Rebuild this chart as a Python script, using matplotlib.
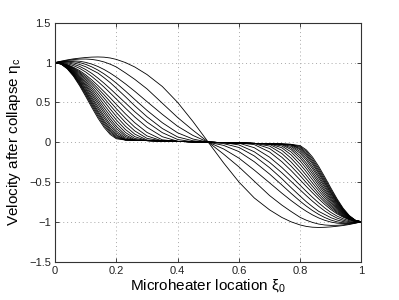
import matplotlib
matplotlib.use('Agg')
import matplotlib.pyplot as plt

# microheater location, left half of the interval (the curves are antisymmetric about 0.5)
xi_half = [0, .02, .04, .06, .08, .10, .12, .14, .16, .18, .20, .23, .26, .30, .35, .40, .45, .50]

# velocity after collapse, one list per curve (outer -> inner)
eta_01 = [1.000, 1.018, 1.034, 1.047, 1.056, 1.064, 1.069, 1.071, 1.068, 1.058, 1.040, 1.000, 0.945, 0.850, 0.700, 0.500, 0.260, 0]
eta_02 = [1.000, 1.015, 1.028, 1.038, 1.044, 1.045, 1.040, 1.028, 1.008, 0.980, 0.945, 0.870, 0.790, 0.670, 0.490, 0.310, 0.150, 0]
eta_03 = [1.000, 1.012, 1.020, 1.022, 1.017, 1.003, 0.981, 0.951, 0.913, 0.868, 0.817, 0.732, 0.640, 0.510, 0.350, 0.200, 0.085, 0]
eta_04 = [1.000, 1.010, 1.015, 1.012, 1.000, 0.978, 0.946, 0.906, 0.858, 0.803, 0.742, 0.642, 0.537, 0.400, 0.245, 0.118, 0.040, 0]
eta_05 = [1.000, 1.007, 1.007, 0.997, 0.977, 0.948, 0.908, 0.868, 0.810, 0.748, 0.678, 0.570, 0.458, 0.320, 0.172, 0.066, 0.018, 0]
eta_06 = [1.000, 1.004, 0.998, 0.980, 0.953, 0.913, 0.864, 0.805, 0.741, 0.672, 0.600, 0.492, 0.384, 0.253, 0.120, 0.034, 0.005, 0]
eta_07 = [1.000, 0.999, 0.986, 0.962, 0.928, 0.882, 0.825, 0.761, 0.692, 0.618, 0.542, 0.427, 0.317, 0.188, 0.069, 0.012, 0.005, 0]
eta_08 = [1.000, 0.994, 0.974, 0.942, 0.900, 0.846, 0.782, 0.711, 0.635, 0.556, 0.475, 0.355, 0.245, 0.123, 0.030, 0.010, 0.005, 0]
eta_09 = [1.000, 0.993, 0.971, 0.934, 0.886, 0.825, 0.754, 0.676, 0.594, 0.508, 0.421, 0.299, 0.189, 0.079, 0.016, 0.010, 0.005, 0]
eta_10 = [1.000, 0.992, 0.967, 0.927, 0.872, 0.805, 0.728, 0.643, 0.553, 0.462, 0.373, 0.247, 0.142, 0.048, 0.015, 0.010, 0.005, 0]
eta_11 = [1.000, 0.991, 0.963, 0.919, 0.858, 0.784, 0.699, 0.607, 0.513, 0.417, 0.324, 0.200, 0.102, 0.028, 0.015, 0.010, 0.005, 0]
eta_12 = [1.000, 0.990, 0.959, 0.910, 0.843, 0.763, 0.671, 0.573, 0.471, 0.372, 0.279, 0.158, 0.070, 0.020, 0.015, 0.010, 0.005, 0]
eta_13 = [1.000, 0.988, 0.955, 0.901, 0.828, 0.742, 0.644, 0.539, 0.433, 0.331, 0.237, 0.122, 0.047, 0.020, 0.015, 0.010, 0.005, 0]
eta_14 = [1.000, 0.987, 0.952, 0.892, 0.814, 0.721, 0.617, 0.508, 0.398, 0.294, 0.200, 0.092, 0.032, 0.020, 0.015, 0.010, 0.005, 0]
eta_15 = [1.000, 0.987, 0.947, 0.885, 0.801, 0.703, 0.593, 0.479, 0.366, 0.262, 0.170, 0.071, 0.025, 0.020, 0.015, 0.010, 0.005, 0]
eta_16 = [1.000, 0.986, 0.943, 0.876, 0.787, 0.682, 0.566, 0.447, 0.332, 0.227, 0.140, 0.052, 0.024, 0.020, 0.015, 0.010, 0.005, 0]
eta_17 = [1.000, 0.985, 0.940, 0.868, 0.774, 0.664, 0.543, 0.421, 0.305, 0.201, 0.117, 0.039, 0.024, 0.020, 0.015, 0.010, 0.005, 0]
eta_18 = [1.000, 0.984, 0.936, 0.860, 0.760, 0.644, 0.519, 0.393, 0.275, 0.174, 0.095, 0.031, 0.024, 0.020, 0.015, 0.010, 0.005, 0]
eta_19 = [1.000, 0.983, 0.933, 0.853, 0.749, 0.629, 0.499, 0.372, 0.253, 0.154, 0.081, 0.028, 0.024, 0.020, 0.015, 0.010, 0.005, 0]
eta_20 = [1.000, 0.982, 0.930, 0.846, 0.737, 0.612, 0.479, 0.349, 0.231, 0.134, 0.066, 0.027, 0.024, 0.020, 0.015, 0.010, 0.005, 0]
eta_21 = [1.000, 0.981, 0.925, 0.838, 0.724, 0.594, 0.458, 0.326, 0.209, 0.115, 0.054, 0.027, 0.024, 0.020, 0.015, 0.010, 0.005, 0]
eta_22 = [1.000, 0.980, 0.921, 0.829, 0.710, 0.575, 0.436, 0.302, 0.186, 0.097, 0.043, 0.027, 0.024, 0.020, 0.015, 0.010, 0.005, 0]

curves = [eta_01, eta_02, eta_03, eta_04, eta_05, eta_06, eta_07, eta_08, eta_09, eta_10, eta_11,
          eta_12, eta_13, eta_14, eta_15, eta_16, eta_17, eta_18, eta_19, eta_20, eta_21, eta_22]

x_ticks = [0, 0.2, 0.4, 0.6, 0.8, 1]
y_ticks = [-1.5, -1, -0.5, 0, 0.5, 1, 1.5]

plt.rcParams['font.family'] = ['Liberation Sans', 'DejaVu Sans']
plt.rcParams['mathtext.fontset'] = 'custom'
plt.rcParams['mathtext.rm'] = 'Liberation Sans'
plt.rcParams['mathtext.it'] = 'Liberation Sans'

fig = plt.figure(figsize=(3.99, 3.00), dpi=100)
ax = fig.add_axes([0.138, 0.128, 0.768, 0.796])

# right half comes from the antisymmetry eta(1 - xi) = -eta(xi)
xi_full = xi_half + [1 - v for v in reversed(xi_half[:-1])]
for eta in curves:
    eta_full = eta + [-v for v in reversed(eta[:-1])]
    ax.plot(xi_full, eta_full, color='k', lw=0.6)

ax.set_xlim(0, 1)
ax.set_ylim(-1.5, 1.5)
ax.set_xticks(x_ticks)
ax.set_xticklabels(['0', '0.2', '0.4', '0.6', '0.8', '1'])
ax.set_yticks(y_ticks)
ax.set_yticklabels(['\u22121.5', '\u22121', '\u22120.5', '0', '0.5', '1', '1.5'])
ax.tick_params(direction='in', top=True, right=True, length=3, width=0.6, labelsize=8, pad=3, colors='#222222')
ax.grid(True, linestyle=(0, (1, 3)), color='#a8a8a8', lw=0.7)
for s in ax.spines.values():
    s.set_color('#333333')
    s.set_linewidth(0.8)

ax.set_xlabel('Microheater location \u03be$_0$', fontsize=11, labelpad=1)
ax.set_ylabel('Velocity after collapse \u03b7$_c$', fontsize=11, labelpad=4)

fig.savefig('out.png', dpi=100)
